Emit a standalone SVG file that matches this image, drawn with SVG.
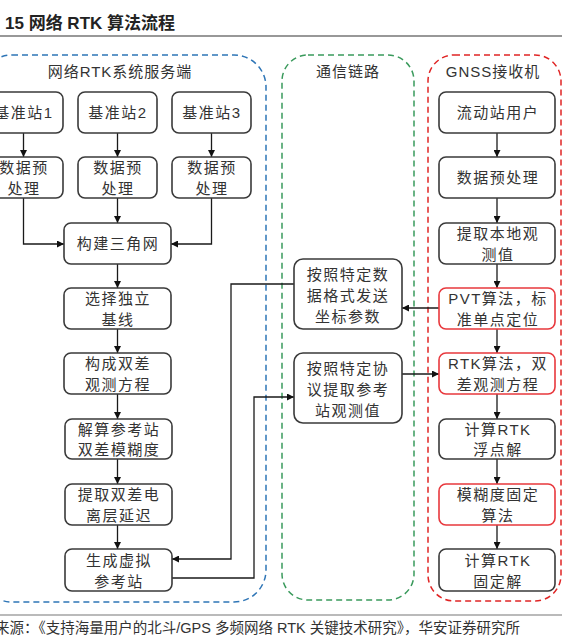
<svg xmlns="http://www.w3.org/2000/svg" width="562" height="639" viewBox="0 0 562 639">
<defs>
<marker id="ah" viewBox="0 0 10 10" refX="10" refY="5" markerWidth="7" markerHeight="7" markerUnits="userSpaceOnUse" orient="auto"><path d="M0,0 L10,5 L0,10 z" fill="#111"/></marker>
<style>
.box{fill:#fff;stroke:#3a3a3a;stroke-width:1.6}
.red{fill:#fff;stroke:#e8383d;stroke-width:1.6}
.t{font-family:"Liberation Sans","Noto Sans CJK SC",sans-serif;font-size:15px;fill:#333;text-anchor:middle;letter-spacing:1.5px}
.h{font-family:"Liberation Sans","Noto Sans CJK SC",sans-serif;font-size:15px;fill:#333;text-anchor:middle;letter-spacing:1px}
.c{fill:none;stroke:#1a1a1a;stroke-width:1.3}
.ca{fill:none;stroke:#1a1a1a;stroke-width:1.3;marker-end:url(#ah)}
</style>
</defs>
<rect width="562" height="639" fill="#fff"/>
<text x="5" y="29" font-family="Liberation Sans,'Noto Sans CJK SC',sans-serif" font-size="17" font-weight="bold" fill="#222">15 网络 RTK 算法流程</text>
<line x1="0" y1="36" x2="562" y2="36" stroke="#333" stroke-width="1.2"/>
<line x1="0" y1="615" x2="562" y2="615" stroke="#777" stroke-width="1.2"/>
<text x="-5" y="633" font-family="Liberation Sans,'Noto Sans CJK SC',sans-serif" font-size="14.5" fill="#333">来源：《支持海量用户的北斗/GPS 多频网络 RTK 关键技术研究》，华安证券研究所</text>

<g id="container-server">
<rect x="-20" y="55" width="286" height="547" rx="32" fill="none" stroke="#2e75b6" stroke-width="1.5" stroke-dasharray="6,4"/>
<text class="h" x="120" y="77">网络RTK系统服务端</text>
</g>
<g id="container-link">
<rect x="282" y="55" width="132" height="545" rx="26" fill="none" stroke="#3a9a5c" stroke-width="1.5" stroke-dasharray="6,4"/>
<text class="h" x="348" y="77">通信链路</text>
</g>
<g id="container-gnss">
<rect x="428" y="55" width="133" height="546" rx="26" fill="none" stroke="#e02424" stroke-width="1.5" stroke-dasharray="6,4"/>
<text class="h" x="493" y="77">GNSS接收机</text>
</g>

<g id="connectors">
<path class="ca" d="M23.5,133 V157"/>
<path class="ca" d="M117.5,133 V157"/>
<path class="ca" d="M211.5,133 V157"/>
<path class="ca" d="M23.5,198 V244 H64"/>
<path class="ca" d="M117.5,198 V223"/>
<path class="ca" d="M211.5,198 V244 H171"/>
<path class="ca" d="M117.5,264 V288"/>
<path class="ca" d="M117.5,329 V353"/>
<path class="ca" d="M117.5,394 V419"/>
<path class="ca" d="M117.5,459 V484"/>
<path class="ca" d="M117.5,525 V549"/>
<path class="ca" d="M294,284 H231 V559 H172"/>
<path class="ca" d="M172,578 H254 V397 H294"/>
<path class="ca" d="M439,308 H402"/>
<path class="ca" d="M402,374 H439"/>
<path class="ca" d="M497,133 V157"/>
<path class="ca" d="M497,198 V223"/>
<path class="ca" d="M497,264 V288"/>
<path class="ca" d="M497,329 V353"/>
<path class="ca" d="M497,394 V419"/>
<path class="ca" d="M497,459 V484"/>
<path class="ca" d="M497,525 V549"/>
</g>

<g id="ref1"><rect class="box" x="-16" y="92" width="79" height="41" rx="7"/><text class="t" x="24" y="118">基准站1</text></g>
<g id="ref2"><rect class="box" x="78" y="92" width="79" height="41" rx="7"/><text class="t" x="118" y="118">基准站2</text></g>
<g id="ref3"><rect class="box" x="172" y="92" width="79" height="41" rx="7"/><text class="t" x="212" y="118">基准站3</text></g>
<g id="pre1"><rect class="box" x="-16" y="157" width="79" height="41" rx="7"/><text class="t" x="24" y="173">数据预</text><text class="t" x="24" y="194">处理</text></g>
<g id="pre2"><rect class="box" x="78" y="157" width="79" height="41" rx="7"/><text class="t" x="118" y="173">数据预</text><text class="t" x="118" y="194">处理</text></g>
<g id="pre3"><rect class="box" x="172" y="157" width="79" height="41" rx="7"/><text class="t" x="212" y="173">数据预</text><text class="t" x="212" y="194">处理</text></g>
<g id="triangle"><rect class="box" x="64" y="223" width="107" height="41" rx="7"/><text class="t" x="118" y="249">构建三角网</text></g>
<g id="baseline"><rect class="box" x="64" y="288" width="107" height="41" rx="7"/><text class="t" x="118" y="304">选择独立</text><text class="t" x="118" y="325">基线</text></g>
<g id="dd-eq"><rect class="box" x="64" y="353" width="107" height="41" rx="7"/><text class="t" x="118" y="369">构成双差</text><text class="t" x="118" y="390">观测方程</text></g>
<g id="dd-amb"><rect class="box" x="65" y="419" width="107" height="40" rx="7"/><text class="t" x="119" y="435">解算参考站</text><text class="t" x="119" y="455">双差模糊度</text></g>
<g id="iono"><rect class="box" x="65" y="484" width="107" height="41" rx="7"/><text class="t" x="119" y="500">提取双差电</text><text class="t" x="119" y="521">离层延迟</text></g>
<g id="vrs"><rect class="box" x="65" y="549" width="107" height="42" rx="7"/><text class="t" x="119" y="566">生成虚拟</text><text class="t" x="119" y="587">参考站</text></g>

<g id="send-coord"><rect class="box" x="294" y="259" width="108" height="70" rx="9"/><text class="t" x="348" y="280">按照特定数</text><text class="t" x="348" y="301">据格式发送</text><text class="t" x="348" y="322">坐标参数</text></g>
<g id="extract-obs"><rect class="box" x="294" y="353" width="108" height="70" rx="9"/><text class="t" x="348" y="374">按照特定协</text><text class="t" x="348" y="395">议提取参考</text><text class="t" x="348" y="416">站观测值</text></g>

<g id="rover"><rect class="box" x="439" y="92" width="116" height="41" rx="7"/><text class="t" x="498" y="118">流动站用户</text></g>
<g id="rover-pre"><rect class="box" x="439" y="157" width="116" height="41" rx="7"/><text class="t" x="498" y="183">数据预处理</text></g>
<g id="local-obs"><rect class="box" x="439" y="223" width="116" height="41" rx="7"/><text class="t" x="498" y="239">提取本地观</text><text class="t" x="498" y="260">测值</text></g>
<g id="pvt"><rect class="red" x="439" y="288" width="116" height="41" rx="7"/><text class="t" x="498" y="304">PVT算法，标</text><text class="t" x="498" y="325">准单点定位</text></g>
<g id="rtk-alg"><rect class="red" x="439" y="353" width="116" height="41" rx="7"/><text class="t" x="498" y="369">RTK算法，双</text><text class="t" x="498" y="390">差观测方程</text></g>
<g id="float"><rect class="box" x="439" y="419" width="116" height="40" rx="7"/><text class="t" x="498" y="435">计算RTK</text><text class="t" x="498" y="455">浮点解</text></g>
<g id="amb-fix"><rect class="red" x="439" y="484" width="116" height="41" rx="7"/><text class="t" x="498" y="500">模糊度固定</text><text class="t" x="498" y="521">算法</text></g>
<g id="fixed"><rect class="box" x="439" y="549" width="116" height="42" rx="7"/><text class="t" x="498" y="566">计算RTK</text><text class="t" x="498" y="587">固定解</text></g>
</svg>
